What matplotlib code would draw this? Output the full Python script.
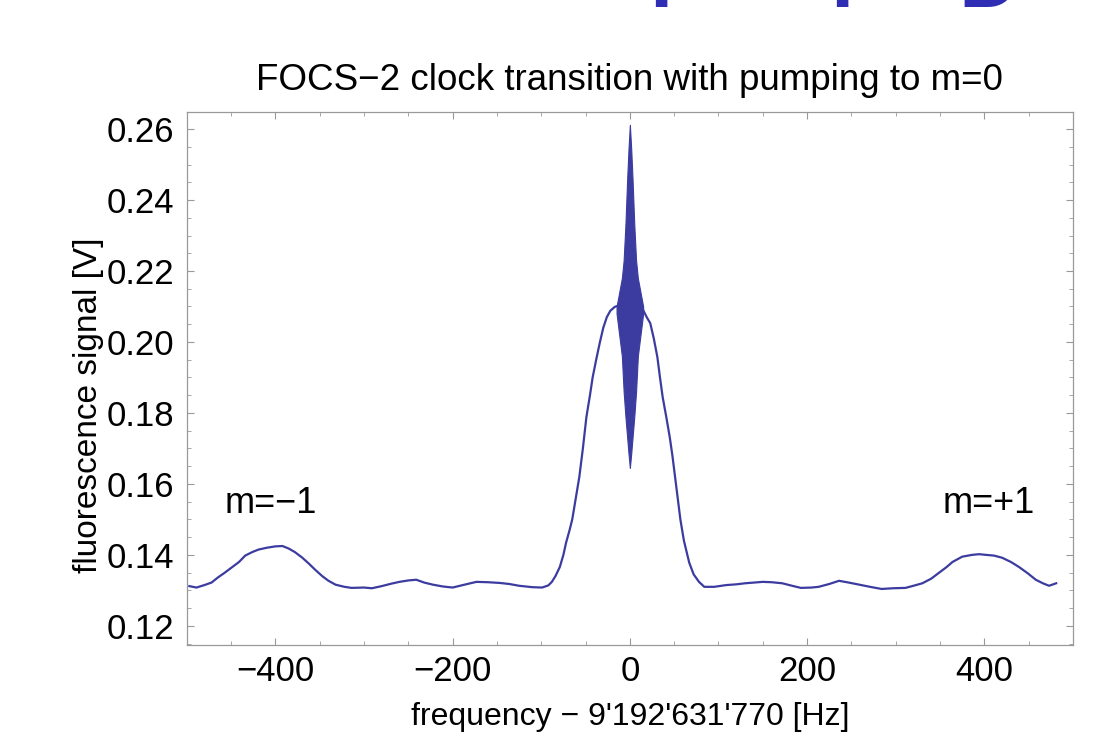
import numpy as np
import matplotlib.pyplot as plt
from matplotlib.ticker import MultipleLocator

plt.rcParams['font.family'] = ['Liberation Sans', 'DejaVu Sans']

# trace: detuning [Hz] and fluorescence [V]
freq = [-497, -489, -480, -472, -465, -457, -449, -441, -434, -426, -419, -410,
        -400, -392, -385, -378, -370, -362, -355, -347, -340, -332, -322, -314,
        -300, -291, -280, -269, -260, -250, -241, -232, -222, -211, -200, -190,
        -180, -173, -160, -147, -136, -125, -110, -99, -92, -88, -84, -79, -75,
        -72, -68, -65, -61, -57, -53, -49, -45, -42, -38, -34, -30, -26, -22,
        -17, -10, 0, 8, 15, 19, 23, 27, 31, 34, 37, 41, 45, 48, 51, 54, 57, 61,
        67, 72, 78, 84, 95, 109, 120, 130, 150, 160, 172, 183, 193, 205, 213,
        225, 236, 247, 259, 271, 284, 297, 311, 320, 330, 340, 349, 357, 364,
        375, 386, 394, 402, 411, 420, 430, 439, 449, 458, 466, 473, 481]
signal = [0.1312, 0.1308, 0.1315, 0.1322, 0.1336, 0.1350, 0.1365, 0.1380, 0.1398,
          0.1408, 0.1415, 0.1420, 0.1424, 0.1425, 0.1418, 0.1408, 0.1393, 0.1375,
          0.1358, 0.1340, 0.1327, 0.1316, 0.1310, 0.1307, 0.1308, 0.1306, 0.1312,
          0.1319, 0.1324, 0.1328, 0.1330, 0.1322, 0.1316, 0.1311, 0.1308, 0.1314,
          0.1320, 0.1324, 0.1323, 0.1321, 0.1318, 0.1313, 0.1309, 0.1308, 0.1314,
          0.1324, 0.1340, 0.1366, 0.1400, 0.1434, 0.1470, 0.1500, 0.1560, 0.1620,
          0.1700, 0.1789, 0.1850, 0.1900, 0.1950, 0.1997, 0.2040, 0.2070, 0.2088,
          0.2099, 0.2105, 0.2105, 0.2102, 0.2090, 0.2070, 0.2053, 0.2010, 0.1958,
          0.1900, 0.1845, 0.1790, 0.1732, 0.1680, 0.1620, 0.1560, 0.1500, 0.1440,
          0.1378, 0.1345, 0.1324, 0.1310, 0.1310, 0.1315, 0.1317, 0.1320, 0.1324,
          0.1323, 0.1320, 0.1313, 0.1307, 0.1308, 0.1310, 0.1318, 0.1327, 0.1322,
          0.1316, 0.1310, 0.1304, 0.1306, 0.1307, 0.1313, 0.1320, 0.1333, 0.1350,
          0.1365, 0.1380, 0.1395, 0.1400, 0.1402, 0.1400, 0.1398, 0.1392, 0.1380,
          0.1366, 0.1348, 0.1330, 0.1320, 0.1313, 0.1320]

# Ramsey fringes at the centre are too dense to resolve: keep their envelope
fringe_f = [-15, -12, -9, -7, -5, -3, -1.5, 0, 1.5, 3, 5, 7, 9, 12, 15]
fringe_hi = [0.2100, 0.2140, 0.2180, 0.2230, 0.2330, 0.2460, 0.2545, 0.2612,
             0.2545, 0.2460, 0.2330, 0.2230, 0.2180, 0.2140, 0.2100]
fringe_lo = [0.2080, 0.2020, 0.1960, 0.1860, 0.1790, 0.1730, 0.1685, 0.1645,
             0.1685, 0.1730, 0.1790, 0.1860, 0.1960, 0.2020, 0.2080]

xticks = [-400, -200, 0, 200, 400]
yticks = [0.12, 0.14, 0.16, 0.18, 0.20, 0.22, 0.24, 0.26]

blue = '#3c3ca0'

fig = plt.figure(figsize=(11.14, 7.36), dpi=100)
ax = fig.add_axes([0.1676, 0.1236, 0.7956, 0.7242])

ax.plot(freq, signal, color=blue, lw=1.6)
ax.fill_between(fringe_f, fringe_lo, fringe_hi, color=blue, lw=0.8, edgecolor=blue)

ax.set_xlim(-500, 500)
ax.set_ylim(0.1146, 0.2648)
ax.set_xticks(xticks)
ax.set_xticklabels([f"{t:d}".replace('-', '\u2212') for t in xticks])
ax.set_yticks(yticks)
ax.set_yticklabels([f"{t:.2f}" for t in yticks])
ax.xaxis.set_minor_locator(MultipleLocator(50))
ax.yaxis.set_minor_locator(MultipleLocator(0.005))
ax.tick_params(which='both', direction='in', top=True, right=True,
               color='#999999', labelsize=25, labelcolor='black')
ax.tick_params(which='major', length=5, width=0.8)
ax.tick_params(which='minor', length=3, width=0.6)
ax.tick_params(axis='x', pad=7)
ax.tick_params(axis='y', pad=9)
for sp in ax.spines.values():
    sp.set_color('#999999')
    sp.set_linewidth(0.9)

ax.set_title("FOCS\u22122 clock transition with pumping to m=0", fontsize=26.5, pad=16)
ax.set_xlabel("frequency \u2212 9'192'631'770 [Hz]", fontsize=23, labelpad=10)
ax.set_ylabel("fluorescence signal [V]", fontsize=24)
ax.yaxis.set_label_coords(-0.093, 0.45)

ax.text(-405, 0.1545, "m=\u22121", fontsize=26, ha='center', va='center')
ax.text(405, 0.1545, "m=+1", fontsize=26, ha='center', va='center')

# bottom edges of a large blue heading that is cut off above the figure
for xpos, s in [(0.583, 'l'), (0.745, 'l'), (0.860, 'D')]:
    fig.text(xpos, 1 - 7 / 736, s, fontsize=60, fontweight='bold',
             color='#2f2db4', ha='left', va='baseline')

fig.savefig('out.png', dpi=100)
